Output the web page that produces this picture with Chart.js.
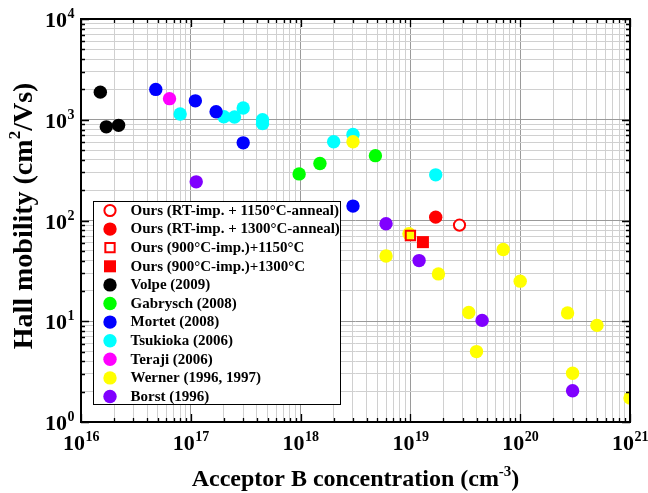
<!DOCTYPE html>
<html>
<head>
<meta charset="utf-8">
<style>
  html, body { margin: 0; padding: 0; background: #ffffff; }
  #wrap { position: relative; width: 648px; height: 493px; }
</style>
<script src="https://cdn.jsdelivr.net/npm/chart.js@4/dist/chart.umd.min.js"></script>
</head>
<body>
<div id="wrap"><canvas id="chart" width="648" height="493"></canvas></div>
<script>
// Acceptor B concentration (cm^-3) vs. Hall mobility (cm^2/Vs)
const oursRT1150X = [2.8e19];
const oursRT1150Y = [90];
const oursRT1300X = [1.7e19];
const oursRT1300Y = [108];
const ours900_1150X = [1.0e19];
const ours900_1150Y = [71];
const ours900_1300X = [1.3e19];
const ours900_1300Y = [61];
const volpeX = [1.5e16, 1.7e16, 2.2e16];
const volpeY = [1880, 850, 880];
const gabryschX = [9.7e17, 1.5e18, 4.8e18];
const gabryschY = [290, 368, 440];
const mortetX = [4.8e16, 1.1e17, 1.7e17, 3.0e17, 3.0e18];
const mortetY = [2000, 1540, 1200, 590, 139];
const tsukiokaX = [8.0e16, 2.0e17, 2.5e17, 3.0e17, 4.5e17, 4.5e17, 2.0e18, 3.0e18, 1.7e19];
const tsukiokaY = [1140, 1070, 1065, 1310, 1000, 915, 605, 715, 284];
const terajiX = [6.4e16];
const terajiY = [1620];
const wernerX = [3.0e18, 6.0e18, 9.7e18, 1.8e19, 3.4e19, 4.0e19, 7.0e19, 1.0e20, 2.7e20, 3.0e20, 5.0e20, 1.0e21];
const wernerY = [605, 44.5, 74, 29.5, 12.2, 5.0, 51.5, 25, 12.1, 3.05, 9.1, 1.73];
const borstX = [1.12e17, 6.0e18, 1.2e19, 4.5e19, 3.0e20];
const borstY = [242, 93, 40, 10.2, 2.04];

// axis decades
const xDecades = [16, 17, 18, 19, 20, 21];
const yDecades = [0, 1, 2, 3, 4];

const SERIF = '"Liberation Serif", "Times New Roman", serif';

function pts(xs, ys) { return xs.map((x, i) => ({ x: x, y: ys[i] })); }

// Series styles; array order = stacking order (first one is drawn on top)
const series = [
  { label: 'Ours (900°C-imp.)+1150°C', data: pts(ours900_1150X, ours900_1150Y), shape: 'rect', color: '#ff0000', open: true, r: 6.6, bw: 2 },
  { label: 'Ours (900°C-imp.)+1300°C', data: pts(ours900_1300X, ours900_1300Y), shape: 'rect', color: '#ff0000', open: false, r: 8.5, bw: 0 },
  { label: 'Ours (RT-imp. + 1150°C-anneal)', data: pts(oursRT1150X, oursRT1150Y), shape: 'circle', color: '#ff0000', open: true, r: 5.6, bw: 2 },
  { label: 'Ours (RT-imp. + 1300°C-anneal)', data: pts(oursRT1300X, oursRT1300Y), shape: 'circle', color: '#ff0000', open: false, r: 6.7, bw: 0 },
  { label: 'Volpe (2009)', data: pts(volpeX, volpeY), shape: 'circle', color: '#000000', open: false, r: 6.7, bw: 0 },
  { label: 'Gabrysch (2008)', data: pts(gabryschX, gabryschY), shape: 'circle', color: '#00ff00', open: false, r: 6.7, bw: 0 },
  { label: 'Teraji (2006)', data: pts(terajiX, terajiY), shape: 'circle', color: '#ff00ff', open: false, r: 6.7, bw: 0 },
  { label: 'Mortet (2008)', data: pts(mortetX, mortetY), shape: 'circle', color: '#0000ff', open: false, r: 6.7, bw: 0 },
  { label: 'Borst (1996)', data: pts(borstX, borstY), shape: 'circle', color: '#8000ff', open: false, r: 6.7, bw: 0 },
  { label: 'Werner (1996, 1997)', data: pts(wernerX, wernerY), shape: 'circle', color: '#ffff00', open: false, r: 6.7, bw: 0 },
  { label: 'Tsukioka (2006)', data: pts(tsukiokaX, tsukiokaY), shape: 'circle', color: '#00ffff', open: false, r: 6.7, bw: 0 }
];

// Legend listing order
const legendOrder = [
  'Ours (RT-imp. + 1150°C-anneal)',
  'Ours (RT-imp. + 1300°C-anneal)',
  'Ours (900°C-imp.)+1150°C',
  'Ours (900°C-imp.)+1300°C',
  'Volpe (2009)',
  'Gabrysch (2008)',
  'Mortet (2008)',
  'Tsukioka (2006)',
  'Teraji (2006)',
  'Werner (1996, 1997)',
  'Borst (1996)'
];

const datasets = series.map(s => ({
  label: s.label,
  data: s.data,
  pointStyle: s.shape,
  pointRadius: s.r,
  pointHoverRadius: s.r,
  pointBackgroundColor: s.open ? (s.shape === 'circle' ? '#ffffff' : 'rgba(0,0,0,0)') : s.color,
  pointBorderColor: s.color,
  pointBorderWidth: s.bw,
  showLine: false,
  clip: 0
}));

function logTicks(decades) {
  const out = [];
  for (let i = 0; i < decades.length; i++) {
    const base = Math.pow(10, decades[i]);
    const last = i === decades.length - 1;
    for (let k = 1; k <= (last ? 1 : 9); k++) {
      out.push({ value: k * base, major: k === 1 });
    }
  }
  return out;
}

function isMajor(v) {
  const l = Math.log10(v);
  return Math.abs(l - Math.round(l)) < 1e-6;
}

function gridColor(ctx) {
  return ctx.tick && isMajor(ctx.tick.value) ? '#9a9a9a' : '#d0d0d0';
}

// "10" with a raised exponent; returns total width
function powWidth(ctx, exp, big, small) {
  ctx.font = 'bold ' + big + 'px ' + SERIF;
  const w1 = ctx.measureText('10').width;
  ctx.font = 'bold ' + small + 'px ' + SERIF;
  const w2 = ctx.measureText(String(exp)).width;
  return w1 + w2;
}
function drawPow(ctx, exp, left, baseline, big, small, rise) {
  ctx.font = 'bold ' + big + 'px ' + SERIF;
  ctx.fillText('10', left, baseline);
  const w1 = ctx.measureText('10').width;
  ctx.font = 'bold ' + small + 'px ' + SERIF;
  ctx.fillText(String(exp), left + w1 + 0.5, baseline - rise);
}

// text pieces: [text, isSuperscript]
function richWidth(ctx, parts, big, small) {
  let w = 0;
  parts.forEach(p => {
    ctx.font = 'bold ' + (p[1] ? small : big) + 'px ' + SERIF;
    w += ctx.measureText(p[0]).width;
  });
  return w;
}
function drawRich(ctx, parts, left, baseline, big, small, rise) {
  let x = left;
  parts.forEach(p => {
    ctx.font = 'bold ' + (p[1] ? small : big) + 'px ' + SERIF;
    ctx.fillText(p[0], x, p[1] ? baseline - rise : baseline);
    x += ctx.measureText(p[0]).width;
  });
}

function drawMarker(ctx, s, x, y) {
  ctx.save();
  ctx.beginPath();
  if (s.shape === 'circle') {
    ctx.arc(x, y, s.r, 0, Math.PI * 2);
  } else {
    const h = s.r * Math.SQRT1_2;
    ctx.rect(x - h, y - h, 2 * h, 2 * h);
  }
  ctx.fillStyle = s.open ? '#ffffff' : s.color;
  ctx.fill();
  if (s.bw > 0) {
    ctx.lineWidth = s.bw;
    ctx.strokeStyle = s.color;
    ctx.stroke();
  }
  ctx.restore();
}

const framePlugin = {
  id: 'frameAndLabels',
  afterDatasetsDraw(chart) {
    const ctx = chart.ctx;
    const a = chart.chartArea;
    const xs = chart.scales.x, ys = chart.scales.y;

    // legend box
    const lx = 93, ly = 201, lw = 247, lh = 203;
    ctx.save();
    ctx.fillStyle = '#ffffff';
    ctx.fillRect(lx, ly, lw, lh);
    ctx.strokeStyle = '#000000';
    ctx.lineWidth = 1;
    ctx.strokeRect(lx + 0.5, ly + 0.5, lw, lh);
    ctx.textBaseline = 'middle';
    ctx.textAlign = 'left';
    legendOrder.forEach((name, i) => {
      const s = series.find(q => q.label === name);
      const cy = 210.5 + i * 18.6;
      drawMarker(ctx, s, 110, cy);
      ctx.fillStyle = '#000000';
      ctx.font = 'bold 15px ' + SERIF;
      ctx.fillText(name, 130.5, cy + 0.5);
    });
    ctx.restore();

    // inward tick marks on all four sides
    ctx.save();
    ctx.strokeStyle = '#000000';
    ctx.lineWidth = 1.3;
    ctx.beginPath();
    xs.ticks.forEach(t => {
      const px = Math.round(xs.getPixelForValue(t.value)) + 0.5;
      const len = isMajor(t.value) ? 8 : 4;
      ctx.moveTo(px, a.top); ctx.lineTo(px, a.top + len);
      ctx.moveTo(px, a.bottom); ctx.lineTo(px, a.bottom - len);
    });
    ys.ticks.forEach(t => {
      const py = Math.round(ys.getPixelForValue(t.value)) + 0.5;
      const len = isMajor(t.value) ? 8 : 4;
      ctx.moveTo(a.left, py); ctx.lineTo(a.left + len, py);
      ctx.moveTo(a.right, py); ctx.lineTo(a.right - len, py);
    });
    ctx.stroke();
    // frame
    ctx.lineWidth = 2;
    ctx.strokeRect(a.left, a.top, a.right - a.left, a.bottom - a.top);
    ctx.restore();
  },
  afterDraw(chart) {
    const ctx = chart.ctx;
    const a = chart.chartArea;
    const xs = chart.scales.x, ys = chart.scales.y;
    ctx.save();
    ctx.fillStyle = '#000000';
    ctx.textBaseline = 'alphabetic';
    ctx.textAlign = 'left';

    // x tick labels
    xDecades.forEach(d => {
      const px = xs.getPixelForValue(Math.pow(10, d));
      const w = powWidth(ctx, d, 22, 14);
      drawPow(ctx, d, px - w / 2, 450, 22, 14, 9);
    });
    // y tick labels
    yDecades.forEach(d => {
      const py = ys.getPixelForValue(Math.pow(10, d));
      const w = powWidth(ctx, d, 22, 14);
      drawPow(ctx, d, 74 - w, py + 8, 22, 14, 9);
    });

    // x axis title
    const xt = [['Acceptor B concentration (cm', false], ['-3', true], [')', false]];
    const xw = richWidth(ctx, xt, 24, 15);
    drawRich(ctx, xt, (a.left + a.right) / 2 - xw / 2, 486, 24, 15, 10);

    // y axis title
    const yt = [['Hall mobility (cm', false], ['2', true], ['/Vs)', false]];
    const yw = richWidth(ctx, yt, 28, 17);
    ctx.translate(32, 216);
    ctx.rotate(-Math.PI / 2);
    drawRich(ctx, yt, -yw / 2, 0, 28, 17, 12);
    ctx.restore();
  }
};

new Chart(document.getElementById('chart'), {
  type: 'scatter',
  data: { datasets: datasets },
  options: {
    responsive: false,
    animation: false,
    events: [],
    layout: { padding: { left: 81, top: 19, right: 18, bottom: 71 } },
    plugins: { legend: { display: false }, tooltip: { enabled: false } },
    scales: {
      x: {
        type: 'logarithmic',
        min: 1e16,
        max: 1e21,
        afterBuildTicks: s => { s.ticks = logTicks(xDecades); },
        afterFit: s => { s.height = 0; },
        ticks: { display: false },
        grid: { color: gridColor, lineWidth: 1, drawTicks: false },
        border: { display: false },
        title: { display: false }
      },
      y: {
        type: 'logarithmic',
        min: 1,
        max: 1e4,
        afterBuildTicks: s => { s.ticks = logTicks(yDecades); },
        afterFit: s => { s.width = 0; },
        ticks: { display: false },
        grid: { color: gridColor, lineWidth: 1, drawTicks: false },
        border: { display: false },
        title: { display: false }
      }
    }
  },
  plugins: [framePlugin]
});
</script>
</body>
</html>
